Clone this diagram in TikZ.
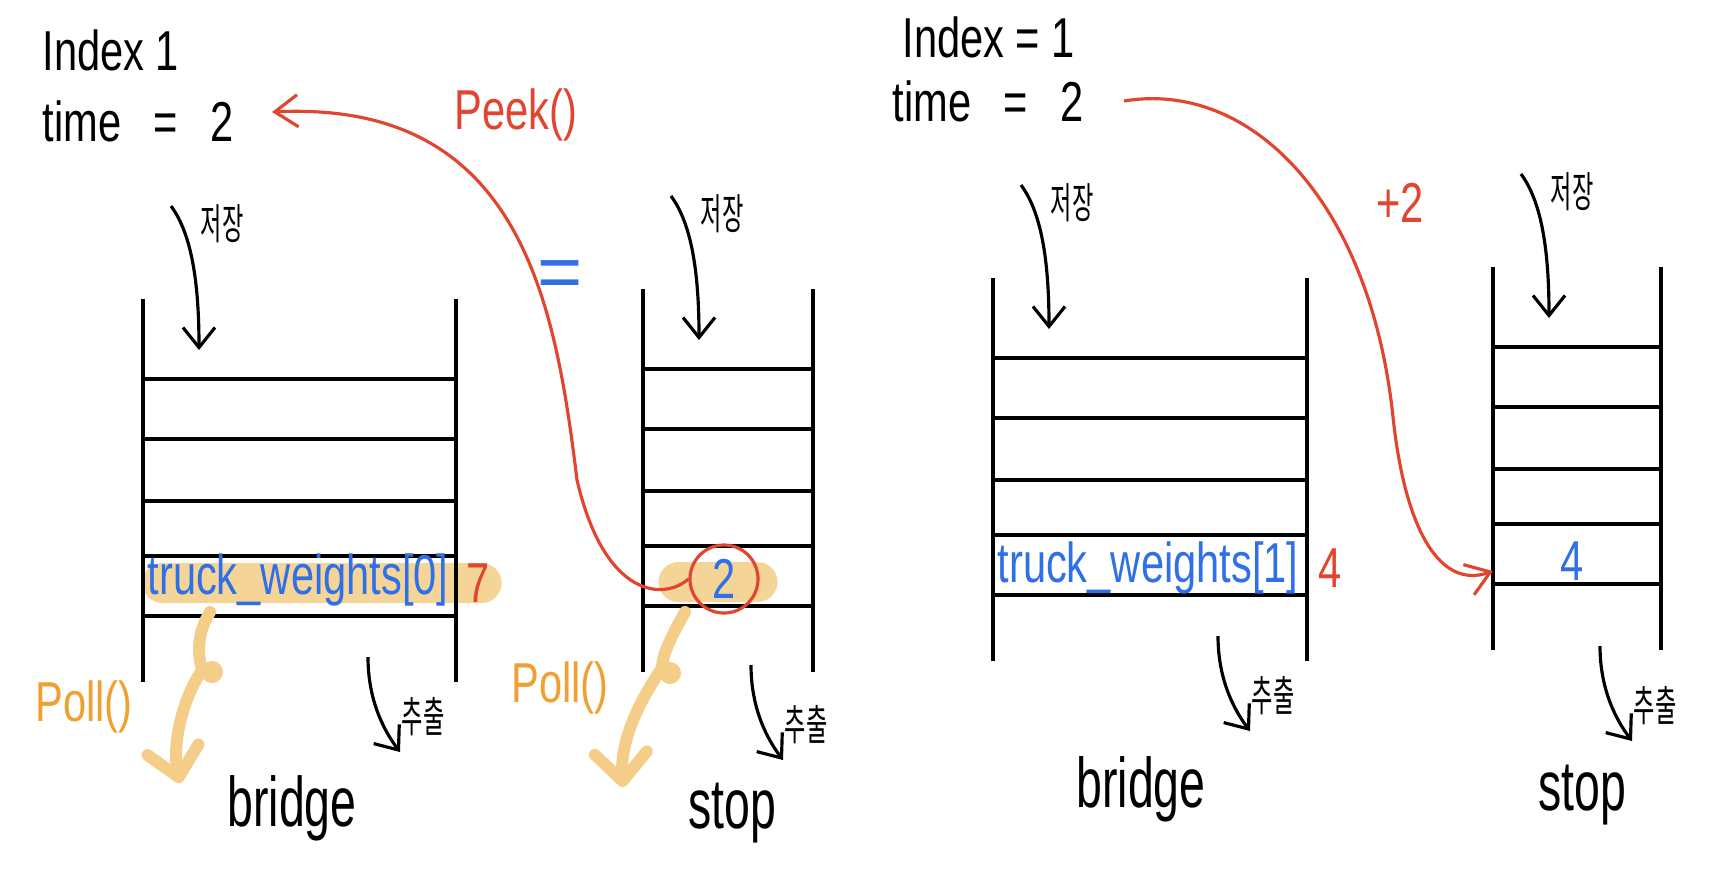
\documentclass[tikz,border=0pt]{standalone}
\usepackage{fontspec}
\setmainfont{Liberation Sans}
\newfontfamily\korfont{Noto Sans CJK KR}
\definecolor{penred}{HTML}{E2452F}
\definecolor{penblue}{HTML}{2F6FE8}
\definecolor{penorange}{HTML}{EFA030}
\definecolor{hlorange}{HTML}{F5D597}
\definecolor{pollarrow}{HTML}{F4CE88}
\usetikzlibrary{arrows.meta}
\tikzset{
	wall/.style={line width=0.9pt, draw=black},
	sarr/.style={-{Straight Barb[length=2mm, width=3.2mm]}, line width=0.9pt, draw=black},
	parr/.style={-{Straight Barb[length=2.3mm, width=3.2mm]}, line width=0.9pt, draw=penred},
	oarr/.style={-{Straight Barb[length=2.8mm, width=5.2mm, round]}, line width=3.4pt,
		draw=pollarrow, line cap=round},
	hand/.style={font=\fontsize{16}{18}\selectfont, inner sep=0pt, xscale=0.74},
	big/.style={font=\fontsize{20}{22}\selectfont, inner sep=0pt, xscale=0.66},
	kor/.style={font=\korfont\fontsize{12}{13}\selectfont, inner sep=0pt, xscale=0.55},
	band/.style={fill=hlorange, rounded corners=0.2cm, inner sep=0pt, minimum height=0.4cm}
}

\begin{document}
\begin{tikzpicture}[x=0.01cm, y=-0.01cm]
	\useasboundingbox (0,0) rectangle (1724,869);

	% highlighted cells
	\node[band, minimum width=3.59cm] (lbsel) at (322,583) {};
	\node[band, minimum width=1.19cm] (lssel) at (718,582) {};

	% the four queues
	\foreach \nm/\lx/\ty/\w in {lb/143/299/313, ls/643/289/170, rb/993/278/314, rs/1493/267/168} {
		\draw[wall] (\lx,\ty) -- ++(0,383) (\lx+\w,\ty) -- ++(0,383);
		\foreach \r in {80,140,202,257,317}
			\draw[wall] (\lx,\ty+\r) -- ++(\w,0);
		\coordinate (\nm-a) at (\lx+28,\ty-93);
		\coordinate (\nm-b) at (\lx+56,\ty+51);
		\node[kor] (\nm-save) at (\lx+79,\ty-75) {저장};
		\draw[sarr] (\nm-a) .. controls +(20,27) and +(0,-70) .. (\nm-b);
	}
	\foreach \nm/\ox/\oy in {lb/368/657, ls/751/665, rb/1218/636, rs/1600/646} {
		\coordinate (\nm-c) at (\ox,\oy);
		\coordinate (\nm-d) at (\ox+32,\oy+95);
		\draw[sarr] (\nm-c) .. controls +(0,45) and +(-15,-20) .. (\nm-d);
		\node[kor] (\nm-out) at (\ox+55,\oy+60) {추출};
	}

	% names
	\node[big] (lbname) at (292,808) {bridge};
	\node[big] (lsname) at (732,813) {stop};
	\node[big] (rbname) at (1141,789) {bridge};
	\node[big] (rsname) at (1582,795) {stop};

	% state
	\node[hand, anchor=west] (idx1) at (42,50) {Index 1};
	\node[hand, anchor=west] (time1) at (42,121) {time \enspace= \enspace2};
	\node[hand, anchor=west] (idx2) at (902,37) {Index = 1};
	\node[hand, anchor=west] (time2) at (892,101) {time \enspace= \enspace2};

	% cell contents
	\node[hand, text=penblue] (w0) at (298,580) {truck\_weights[0]};
	\node[hand, text=penred] (w0v) at (478,583) {7};
	\node[hand, text=penblue] (w1) at (1148,568) {truck\_weights[1]};
	\node[hand, text=penred] (w1v) at (1330,568) {4};
	\node[hand, text=penblue] (rsv) at (1572,561) {4};
	\node[circle, draw=penred, line width=0.9pt, minimum size=0.68cm, inner sep=0pt] (cur) at (724,579) {};
	\node[hand, text=penblue] (curv) at (cur) {2};

	% labels
	\node[hand, text=penred] (peek) at (516,115) {Peek()};
	\node[font=\fontsize{22}{24}\selectfont, text=penblue, inner sep=0pt] (eq) at (560,280) {=};
	\node[hand, text=penred] (plus) at (1400,203) {+2};
	\node[hand, text=penorange] (poll1) at (84,707) {Poll()};
	\node[hand, text=penorange] (poll2) at (560,688) {Poll()};

	% red arrows
	\coordinate (peekend) at (272,112);
	\draw[parr] (cur.west) .. controls (665,600) and (605,600) .. (577,480)
		.. controls (555,300) and (520,100) .. (peekend);
	\coordinate (plusstart) at (1124,101);
	\coordinate (plusend) at (1493,571);
	\draw[parr] (plusstart) .. controls (1250,80) and (1370,200) .. (1393,417)
		.. controls (1405,530) and (1440,590) .. (plusend);

	% poll arrows
	\coordinate (lbp) at (210,612);
	\coordinate (lbq) at (180,783);
	\draw[oarr] (lbp) .. controls (196,635) and (198,655) .. (202,670)
		.. controls (182,700) and (172,745) .. (lbq);
	\fill[pollarrow] (212,672) circle (11);
	\coordinate (lsp) at (685,612);
	\coordinate (lsq) at (623,787);
	\draw[oarr] (lsp) .. controls (672,635) and (662,655) .. (662,668)
		.. controls (640,700) and (620,740) .. (lsq);
	\fill[pollarrow] (670,673) circle (11);
\end{tikzpicture}
\end{document}
